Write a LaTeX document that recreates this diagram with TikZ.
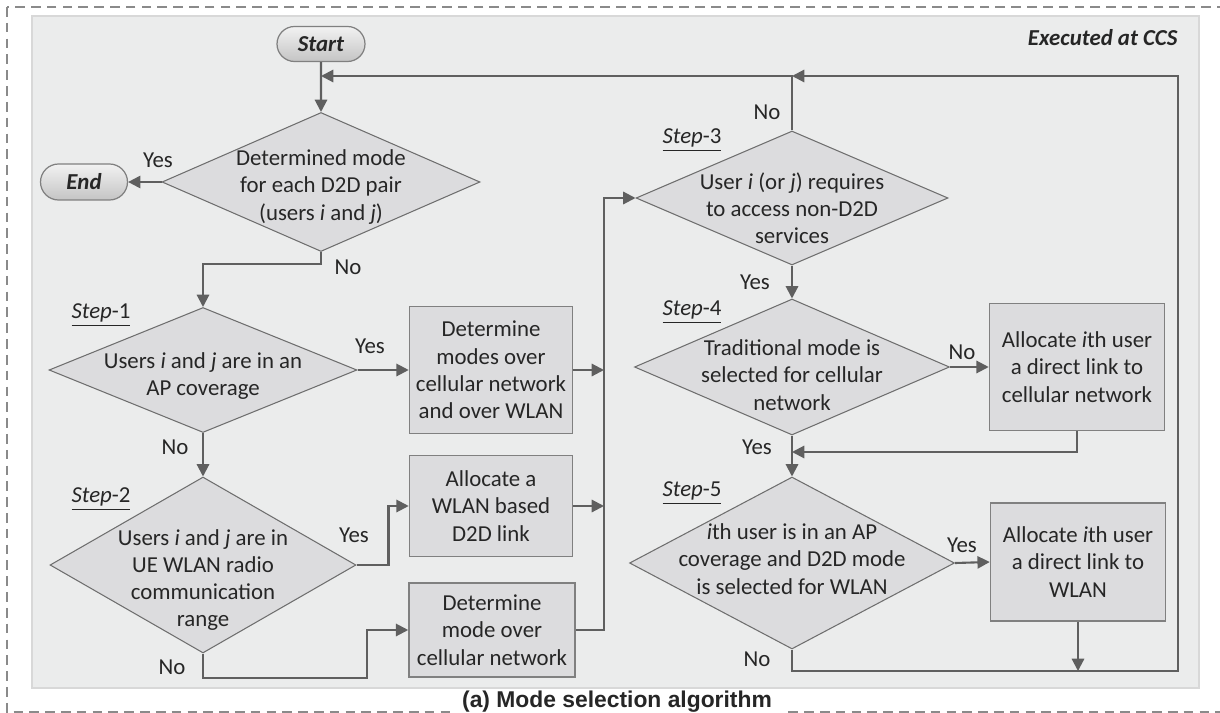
\documentclass[tikz,border=0pt]{standalone}
\usepackage{fontspec}
\setmainfont{Carlito}
\newfontfamily\capfont{Liberation Sans}
\usetikzlibrary{shapes.geometric,shapes.misc,arrows.meta}
\definecolor{panelfill}{HTML}{EBECEC}
\definecolor{panelline}{HTML}{D8D8D8}
\definecolor{boxfill}{HTML}{DCDCDE}
\definecolor{boxline}{HTML}{808080}
\definecolor{diagline}{HTML}{6E6E6E}
\definecolor{flowline}{HTML}{5F5F5F}
\definecolor{termtop}{HTML}{F2F2F2}
\definecolor{termbot}{HTML}{C4C4C4}
\definecolor{dashgray}{HTML}{8A8A8A}
\definecolor{ink}{HTML}{262626}

\begin{document}
\begin{tikzpicture}[x=0.02cm,y=-0.02cm,
  txt/.style={font=\fontsize{13}{15.5}\selectfont, text=ink},
  decision/.style={diamond, draw=diagline, fill=boxfill, line width=0.6pt, inner sep=0pt},
  dtext/.style={txt, align=center, inner sep=0pt},
  procbox/.style={txt, rectangle, draw=boxline, fill=boxfill, line width=0.9pt, align=center, inner sep=0pt},
  term/.style={txt, rounded rectangle, draw=boxline, line width=0.7pt, top color=termtop, bottom color=termbot, inner sep=0pt},
  flow/.style={draw=flowline, line width=1.2pt, -{Triangle[length=7pt,width=7pt]}},
  yn/.style={txt, inner sep=0pt},
  steplbl/.style={txt, inner sep=0pt}]
\clip (0,0) rectangle (1220,713);
% frame and panel
\draw[dashgray, line width=0.8pt, dash pattern=on 5.5pt off 3.5pt] (7,7) rectangle (1240,712);
\draw[panelline, fill=panelfill, line width=0.6pt] (32,16) rectangle (1199,688);
\node[txt, anchor=east, inner sep=0pt] (ccs) at (1178,38) {\textbf{\textit{Executed at CCS}}};

% terminals
\node[term, minimum width=1.76cm, minimum height=0.7cm] (start) at (321,44) {\textbf{\textit{Start}}};
\node[term, minimum width=1.74cm, minimum height=0.72cm] (end) at (84,182) {\textbf{\textit{End}}};

% decisions
\node[decision, minimum width=6.36cm, minimum height=2.78cm] (d0) at (321,182) {};
\node[dtext] (d0t) at (321,187) {Determined mode\\for each D2D pair\\(users \textit{i} and \textit{j})};
\node[decision, minimum width=6.16cm, minimum height=2.5cm] (d1) at (203,370) {};
\node[dtext] (d1t) at (203,376) {Users \textit{i} and \textit{j} are in an\\AP coverage};
\node[decision, minimum width=6.12cm, minimum height=3.52cm] (d2) at (203,565) {};
\node[dtext] (d2t) at (203,580) {Users \textit{i} and \textit{j} are in\\UE WLAN radio\\communication\\range};
\node[decision, minimum width=6.24cm, minimum height=2.68cm] (d3) at (792,198) {};
\node[dtext] (d3t) at (792,208) {User \textit{i} (or \textit{j}) requires\\to access non-D2D\\services};
\node[decision, minimum width=6.3cm, minimum height=2.72cm] (d4) at (792,367) {};
\node[dtext] (d4t) at (792,375) {Traditional mode is\\selected for cellular\\network};
\node[decision, minimum width=6.5cm, minimum height=3.44cm] (d5) at (792,563) {};
\node[dtext] (d5t) at (792,559) {\textit{i}th user is in an AP\\coverage and D2D mode\\is selected for WLAN};

% process boxes
\node[procbox, minimum width=3.26cm, minimum height=2.54cm] (b1) at (491,370) {Determine\\modes over\\cellular network\\and over WLAN};
\node[procbox, minimum width=3.26cm, minimum height=2.02cm] (b2) at (491,506) {Allocate a\\WLAN based\\D2D link};
\node[procbox, minimum width=3.32cm, minimum height=1.88cm] (b3) at (492,630) {Determine\\mode over\\cellular network};
\node[procbox, minimum width=3.5cm, minimum height=2.54cm] (b4) at (1077,367) {Allocate \textit{i}th user\\a direct link to\\cellular network};
\node[procbox, minimum width=3.5cm, minimum height=2.36cm] (b5) at (1078,562) {Allocate \textit{i}th user\\a direct link to\\WLAN};

% step labels
\node[steplbl] (s1) at (101,315) {\underline{\textit{Step}-1}};
\node[steplbl] (s2) at (101,499) {\underline{\textit{Step}-2}};
\node[steplbl] (s3) at (692,140) {\underline{\textit{Step}-3}};
\node[steplbl] (s4) at (692,312) {\underline{\textit{Step}-4}};
\node[steplbl] (s5) at (692,493) {\underline{\textit{Step}-5}};

% junctions
\coordinate (topj) at (792,76);
\coordinate (rb) at (1178,671);
\coordinate (bus) at (604,198);
\coordinate (j2) at (367,678);
\coordinate (j4) at (792,452);

% connectors
\draw[flow] (start) -- (d0);
\draw[flow] (d0.west) -- (end.east);
\draw[flow] (d0.south) -- ++(0,12) -| (d1.north);
\draw[flow] (d1.east) -- (b1.west);
\draw[flow] (d1.south) -- (d2.north);
\draw[flow] (d2.east) -- ++(32,0) |- (b2.west);
\draw[flow] (d2.south) |- (j2) |- (b3.west);
\draw[flow] (b1.east) -- (b1.east -| bus);
\draw[flow] (b2.east) -- (b2.east -| bus);
\draw[flow] (b3.east) -| (bus) -- (d3.west);
\draw[flow] (d3.north) |- (start.south |- topj);
\draw[flow] (d3.south) -- (d4.north);
\draw[flow] (d4.east) -- (b4.west);
\draw[flow] (b4.south) |- (j4);
\draw[flow] (d4.south) -- (d5.north);
\draw[flow] (d5.east) -- (b5.west);
\draw[flow] (b5.south) -- (b5.south |- rb);
\draw[flow] (d5.south) |- (rb) |- (topj);

% yes / no
\node[yn] (y0) at (158,160) {Yes};
\node[yn] (n0) at (348,267) {No};
\node[yn] (y1) at (370,346) {Yes};
\node[yn] (n1) at (175,447) {No};
\node[yn] (y2) at (354,535) {Yes};
\node[yn] (n2) at (172,667) {No};
\node[yn] (n3) at (767,112) {No};
\node[yn] (y3) at (755,282) {Yes};
\node[yn] (n4) at (962,352) {No};
\node[yn] (y4) at (757,447) {Yes};
\node[yn] (y5) at (962,545) {Yes};
\node[yn] (n5) at (757,659) {No};

% caption
\node[fill=white, anchor=base, inner xsep=6pt, inner ysep=1pt, text=ink, font=\capfont\bfseries\fontsize{13}{15}\selectfont] (cap) at (617,707) {(a) Mode selection algorithm};
\end{tikzpicture}
\end{document}
